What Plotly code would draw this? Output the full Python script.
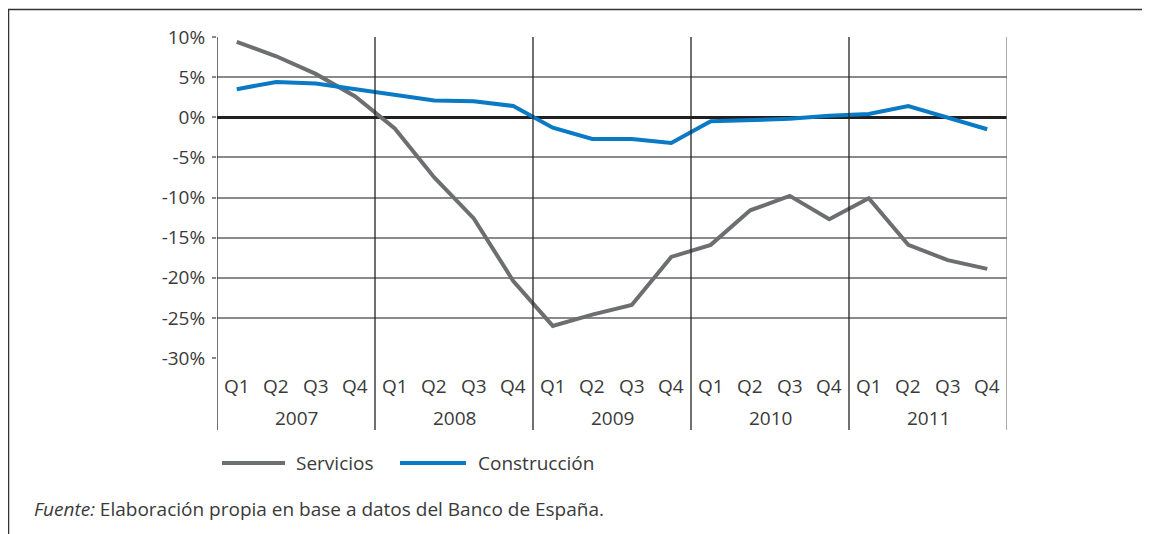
import plotly.graph_objects as go

years = ["2007", "2008", "2009", "2010", "2011"]
quarters = ["Q1", "Q2", "Q3", "Q4"]
servicios = [9.4, 7.6, 5.4, 2.6, -1.4, -7.5, -12.6, -20.4, -26.0, -24.6,
             -23.4, -17.4, -15.9, -11.6, -9.8, -12.7, -10.1, -15.9, -17.8, -18.9]
construccion = [3.5, 4.4, 4.2, 3.5, 2.7, 2.1, 2.0, 1.4, -1.3, -2.7,
                -2.7, -3.2, -0.5, -0.4, -0.2, 0.2, 0.4, 1.4, 0.0, -1.5]
y_ticks = [10, 5, 0, -5, -10, -15, -20, -25, -30]
y_tick_labels = ["10%", "5%", "0%", "-5%", "-10%", "-15%", "-20%", "-25%", "-30%"]
series_names = ["Servicios", "Construcción"]
series_colors = ["#6d6e71", "#0a7ac4"]
source_label = "Fuente:"
source_text = " Elaboración propia en base a datos del Banco de España."

FONT = "Open Sans"
TXT = "#3a3a3a"
FS = 19

n = len(years) * len(quarters)
xs = list(range(n))

fig = go.Figure()
for name, vals, col in zip(series_names, [servicios, construccion], series_colors):
    fig.add_trace(go.Scatter(x=xs, y=vals, mode="lines", name=name,
                             line=dict(color=col, width=4), showlegend=False))

# page offset (browser body margin)
OFF = 8
W, H = 1150 - OFF, 534 - OFF
# target page pixel positions
PL, PR, PT, PB = 217, 1007, 37, 358
ml, mr, mt, mb = PL - OFF, W - (PR - OFF), PT - OFF, H - (PB - OFF)
ph = PB - PT
pw = PR - PL


def py(pix):
    return (PB - pix) / ph


def px(pix):
    return (pix - PL) / pw


shapes = []
annotations = []

# year boundaries (incl. plot edges) extending into label area
bounds = [-0.5 + 4 * k for k in range(len(years) + 1)]
for i, b in enumerate(bounds):
    col = "#222222" if i < len(bounds) - 1 else "#7f7f7f"
    shapes.append(dict(type="line", xref="x", yref="paper", x0=b, x1=b,
                       y0=py(430), y1=1, line=dict(color=col, width=1.3), layer="above"))

# quarter and year labels
for i in xs:
    annotations.append(dict(x=i, y=py(386), xref="x", yref="paper", text=quarters[i % 4],
                            xanchor="center", yanchor="middle", showarrow=False,
                            font=dict(family=FONT, size=FS, color=TXT)))
for k, yr in enumerate(years):
    annotations.append(dict(x=4 * k + 1.5, y=py(418), xref="x", yref="paper", text=yr,
                            xanchor="center", yanchor="middle", showarrow=False,
                            font=dict(family=FONT, size=FS, color=TXT)))

# manual legend
leg = [(222, 285, 294), (400, 466, 476)]
for (x0, x1, tx), name, col in zip(leg, series_names, series_colors):
    shapes.append(dict(type="line", xref="paper", yref="paper", x0=px(x0), x1=px(x1),
                       y0=py(463), y1=py(463), line=dict(color=col, width=4)))
    annotations.append(dict(x=px(tx), y=py(463), xref="paper", yref="paper", text=name,
                            xanchor="left", yanchor="middle", showarrow=False,
                            font=dict(family=FONT, size=FS, color=TXT)))

# source
annotations.append(dict(x=px(32), y=py(509), xref="paper", yref="paper",
                        text="<i>" + source_label + "</i>" + source_text,
                        xanchor="left", yanchor="middle", showarrow=False,
                        font=dict(family=FONT, size=19, color=TXT)))

# outer frame (top and left)
shapes.append(dict(type="line", xref="paper", yref="paper", x0=px(8), x1=px(1160),
                   y0=py(9.5), y1=py(9.5), line=dict(color="#333333", width=1.5)))
shapes.append(dict(type="line", xref="paper", yref="paper", x0=px(8.5), x1=px(8.5),
                   y0=py(540), y1=py(9.5), line=dict(color="#333333", width=1.5)))

fig.update_layout(
    width=W, height=H,
    margin=dict(l=ml, r=mr, t=mt, b=mb, pad=0),
    paper_bgcolor="white", plot_bgcolor="white",
    shapes=shapes, annotations=annotations,
    font=dict(family=FONT, color=TXT),
)
fig.update_xaxes(range=[-0.5, n - 0.5], showgrid=False, zeroline=False,
                 showticklabels=False, ticks="", showline=False)
fig.update_yaxes(range=[-30, 10], tickvals=y_ticks, ticktext=y_tick_labels,
                 showgrid=True, gridcolor="#8a8a8a", gridwidth=1.5,
                 zeroline=True, zerolinecolor="#231f20", zerolinewidth=3,
                 ticks="outside", ticklen=4, tickwidth=1.5, tickcolor="#8a8a8a",
                 ticklabelstandoff=3,
                 tickfont=dict(family=FONT, size=FS, color=TXT), showline=False)

fig.write_html("out.html")
